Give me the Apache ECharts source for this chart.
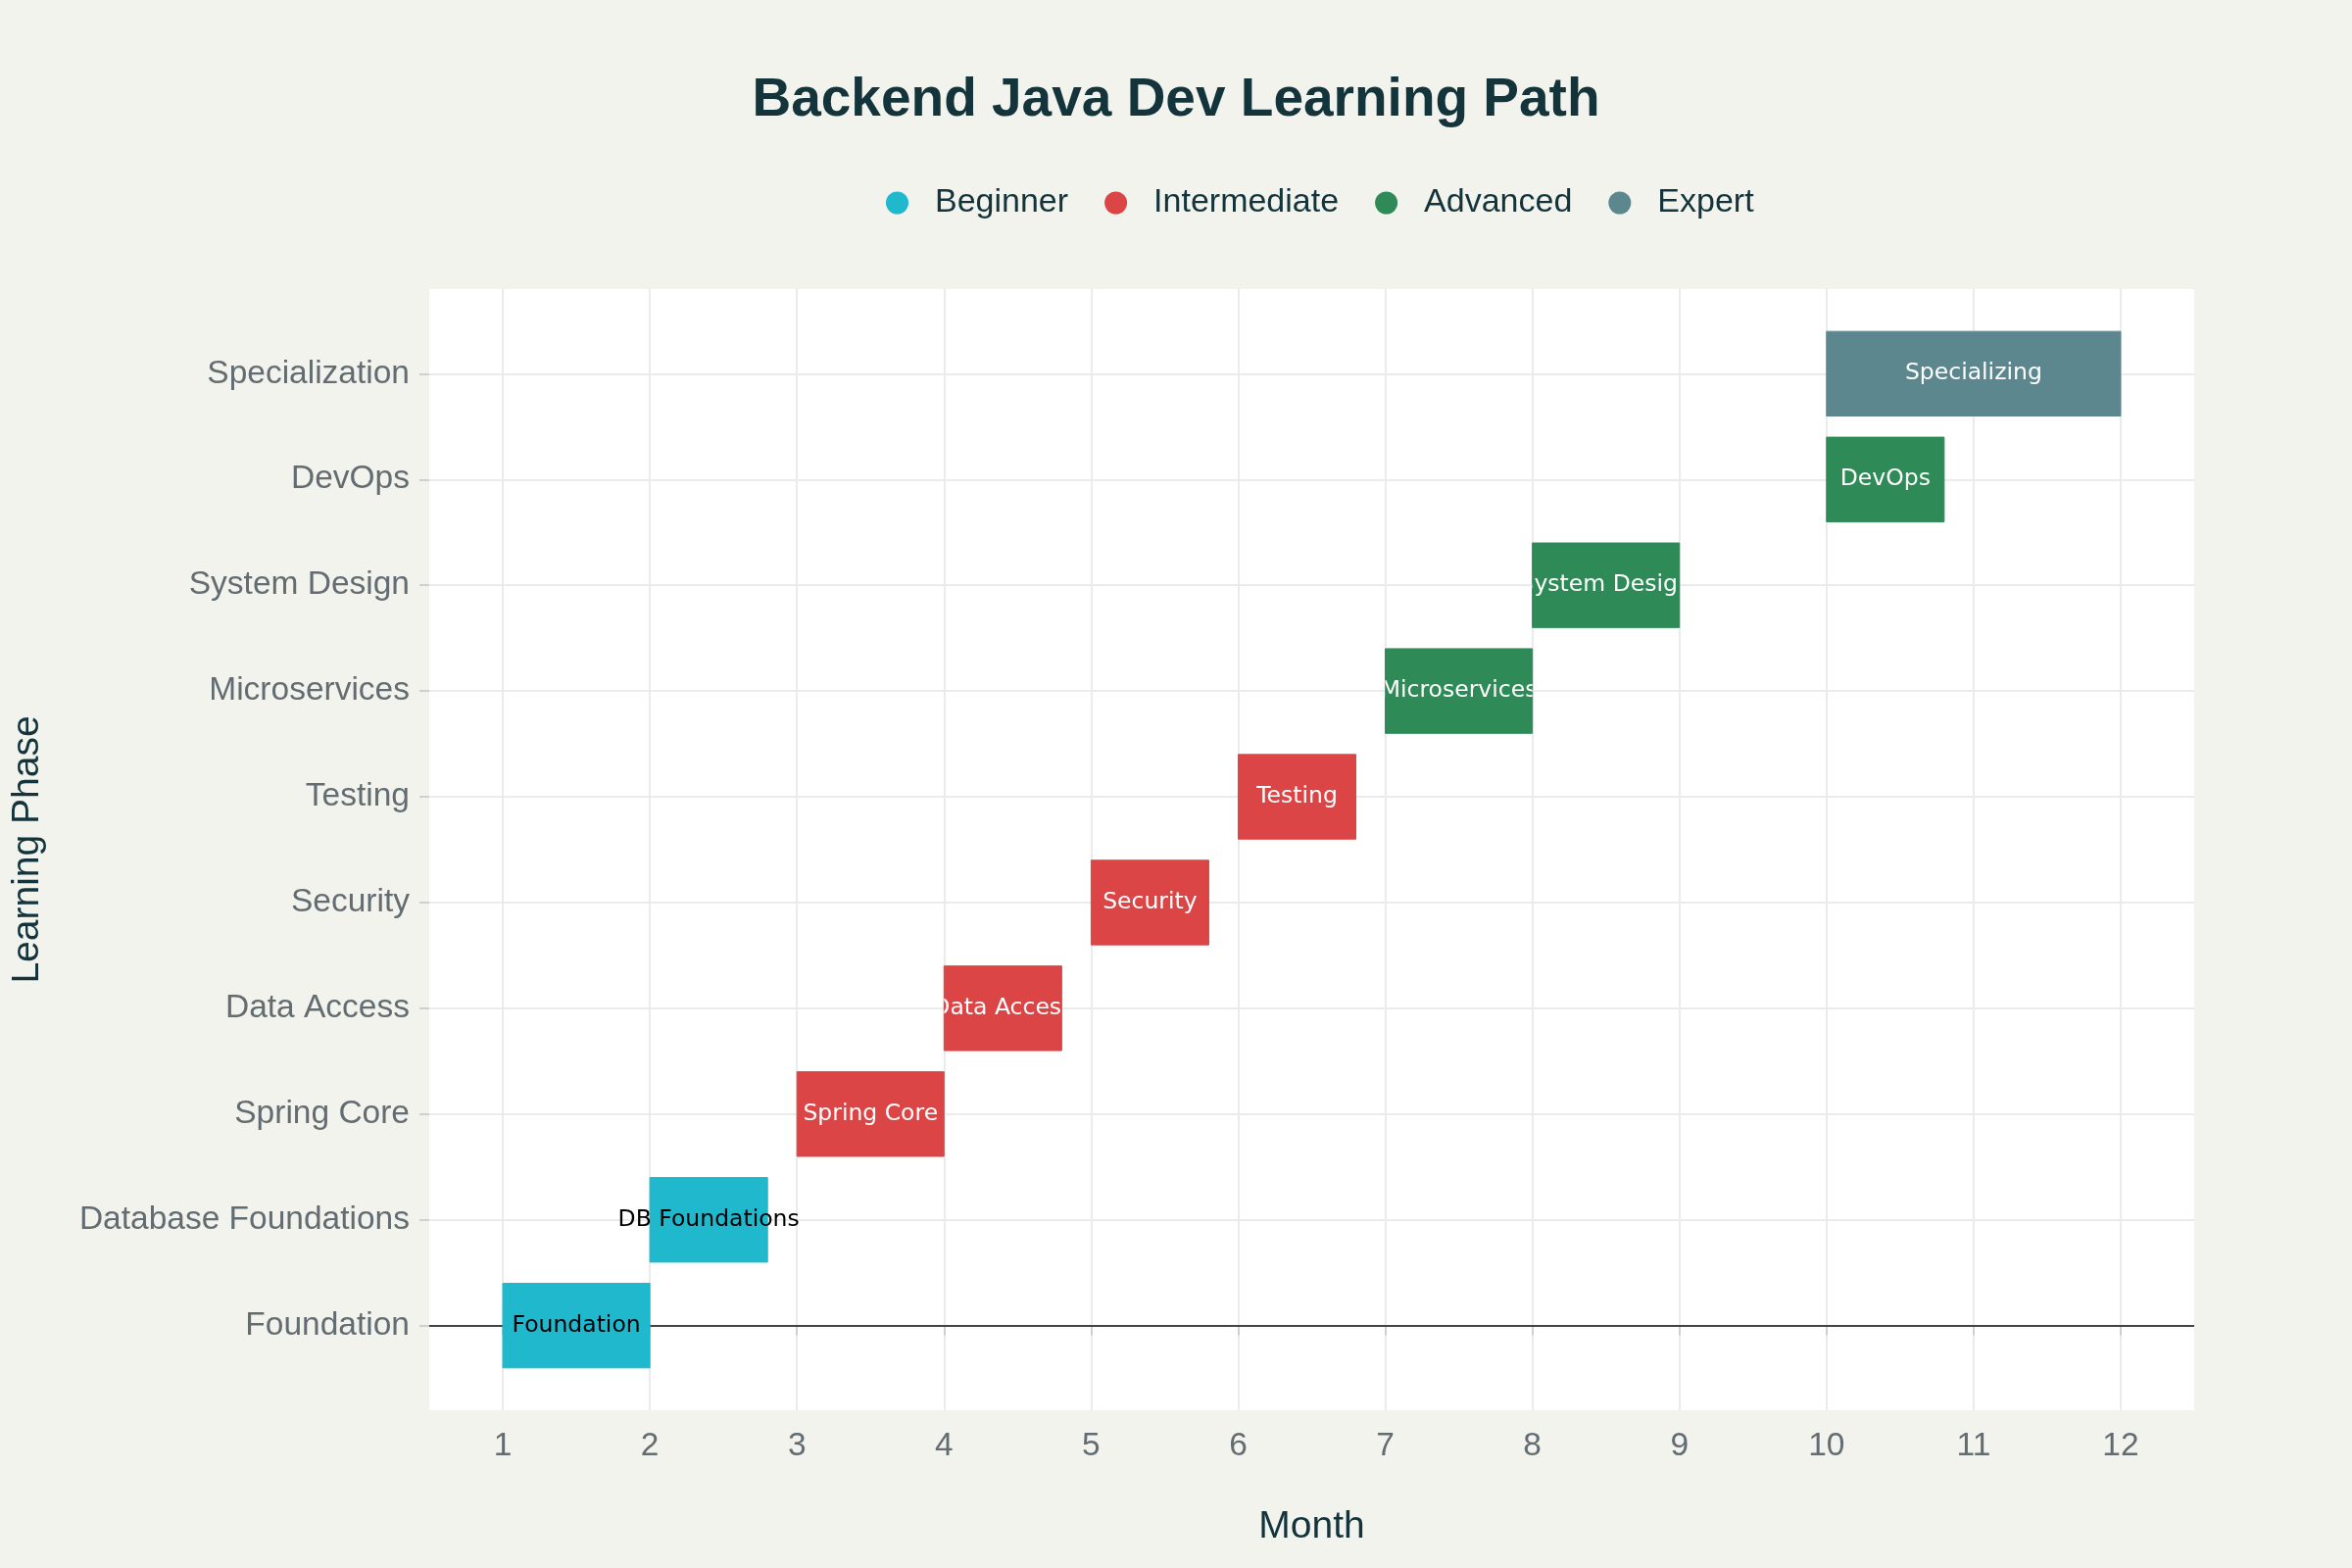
<!DOCTYPE html>
<html>
<head>
<meta charset="utf-8">
<script src="https://cdn.jsdelivr.net/npm/echarts@6/dist/echarts.min.js"></script>
<style>
  html, body { margin: 0; padding: 0; background: #F3F3EE; }
  #chart { width: 2400px; height: 1600px; }
</style>
</head>
<body>
<div id="chart"></div>
<script>
// ---- data ----
var phases = ['Foundation', 'Database Foundations', 'Spring Core', 'Data Access', 'Security', 'Testing', 'Microservices', 'System Design', 'DevOps', 'Specialization'];
var barLabels = ['Foundation', 'DB Foundations', 'Spring Core', 'Data Access', 'Security', 'Testing', 'Microservices', 'System Design', 'DevOps', 'Specializing'];
var startMonth = [1, 2, 3, 4, 5, 6, 7, 8, 10, 10];
var endMonth = [2, 2.8, 4, 4.8, 5.8, 6.8, 8, 9, 10.8, 12];
var levels = ['Beginner', 'Beginner', 'Intermediate', 'Intermediate', 'Intermediate', 'Intermediate', 'Advanced', 'Advanced', 'Advanced', 'Expert'];
var levelNames = ['Beginner', 'Intermediate', 'Advanced', 'Expert'];
var monthTicks = [1, 2, 3, 4, 5, 6, 7, 8, 9, 10, 11, 12];

// ---- styles ----
var levelColors = { 'Beginner': '#1FB8CD', 'Intermediate': '#DB4545', 'Advanced': '#2E8B57', 'Expert': '#5D878F' };
var levelTextColors = { 'Beginner': '#000000', 'Intermediate': '#ffffff', 'Advanced': '#ffffff', 'Expert': '#ffffff' };
var labelFont = 'Liberation Sans';

var chart = echarts.init(document.getElementById('chart'), null, { renderer: 'canvas' });

function makeRender(level) {
  return function (params, api) {
    var s = api.value(0), e = api.value(1), y = api.value(2);
    var idx = api.value(2);
    var p0 = api.coord([s, y]);
    var p1 = api.coord([e, y]);
    var h = api.size([0, 0.8])[1];
    var rect = { x: p0[0], y: p0[1] - h / 2, width: p1[0] - p0[0], height: h };
    var clip = level !== 'Beginner';
    var txt = {
      type: 'text',
      z2: 10,
      style: {
        text: barLabels[idx],
        x: (p0[0] + p1[0]) / 2,
        y: p0[1],
        align: 'center',
        verticalAlign: 'middle',
        fill: levelTextColors[level],
        fontSize: 23.5,
        fontFamily: 'DejaVu Sans'
      }
    };
    if (clip) txt.clipPath = { type: 'rect', shape: { x: rect.x, y: rect.y, width: rect.width, height: rect.height } };
    return {
      type: 'group',
      children: [
        { type: 'rect', shape: rect, style: { fill: levelColors[level], stroke: levelColors[level], lineWidth: 1 } },
        txt
      ]
    };
  };
}

var series = levelNames.map(function (lv, k) {
  var data = [];
  for (var i = 0; i < phases.length; i++) {
    if (levels[i] === lv) data.push([startMonth[i], endMonth[i], i]);
  }
  var s = {
    name: lv,
    type: 'custom',
    renderItem: makeRender(lv),
    encode: { x: [0, 1], y: 2 },
    itemStyle: { color: levelColors[lv] },
    z: 3,
    data: data
  };
  if (k === 0) {
    s.markLine = {
      silent: true,
      symbol: 'none',
      z: 1,
      label: { show: false },
      lineStyle: { color: '#444444', width: 2, type: 'solid' },
      data: [{ yAxis: 0 }],
      animation: false
    };
  }
  return s;
});

var option = {
  backgroundColor: '#F3F3EE',
  animation: false,
  color: levelNames.map(function (l) { return levelColors[l]; }),
  title: {
    text: 'Backend Java Dev Learning Path',
    left: 'center',
    top: 70,
    textStyle: { fontFamily: labelFont, fontWeight: 'bold', fontSize: 55, color: '#13343B' }
  },
  legend: {
    data: levelNames,
    left: 899,
    top: 185,
    icon: 'circle',
    itemWidth: 23,
    itemHeight: 23,
    itemGap: 37,
    textStyle: { fontFamily: labelFont, fontSize: 34, color: '#13343B', padding: [0, 0, 0, 22] }
  },
  grid: {
    left: 438, right: 161, top: 295, bottom: 161,
    show: true, backgroundColor: '#ffffff', borderWidth: 0
  },
  xAxis: {
    type: 'value',
    min: 0.5,
    max: 12.5,
    name: 'Month',
    nameLocation: 'middle',
    nameGap: 100,
    nameTextStyle: { fontFamily: labelFont, fontSize: 39, color: '#13343B' },
    axisLine: { show: false },
    axisTick: { show: true, customValues: monthTicks, length: 10, lineStyle: { color: '#d3d0cc', width: 2 } },
    axisLabel: { customValues: monthTicks, margin: 20, fontFamily: labelFont, fontSize: 33.5, color: '#626C71' },
    splitLine: { show: true, lineStyle: { color: '#ebebeb', width: 2 } }
  },
  yAxis: {
    type: 'value',
    min: -0.8,
    max: 9.8,
    name: 'Learning Phase',
    nameLocation: 'middle',
    nameGap: 390,
    nameTextStyle: { fontFamily: labelFont, fontSize: 39, color: '#13343B' },
    axisLine: { show: false },
    axisTick: { show: true, customValues: [0, 1, 2, 3, 4, 5, 6, 7, 8, 9], length: 10, lineStyle: { color: '#d3d0cc', width: 2 } },
    axisLabel: {
      customValues: [0, 1, 2, 3, 4, 5, 6, 7, 8, 9],
      margin: 20,
      fontFamily: labelFont, fontSize: 33.5, color: '#626C71',
      formatter: function (v) { return phases[Math.round(v)] || ''; }
    },
    splitLine: { show: true, lineStyle: { color: '#ebebeb', width: 2 } }
  },
  series: series
};

chart.setOption(option);
</script>
</body>
</html>
